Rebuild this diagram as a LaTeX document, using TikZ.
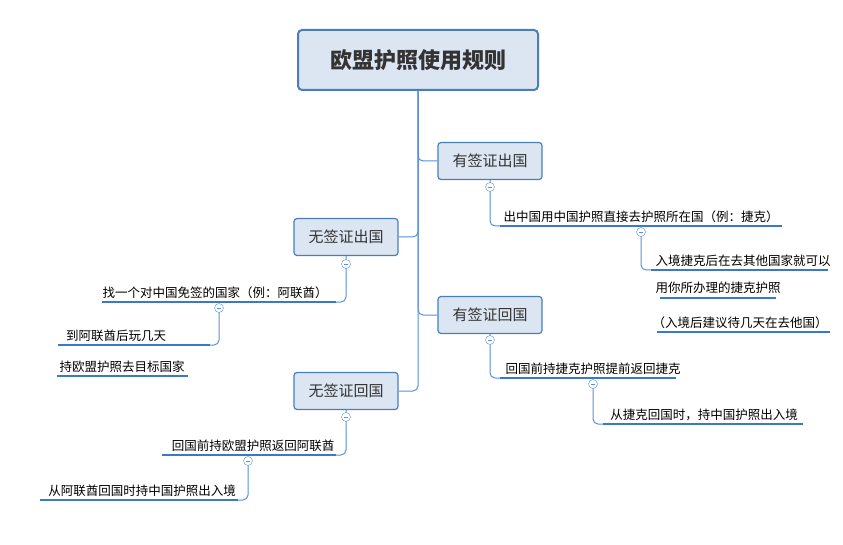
\documentclass[tikz,border=0pt]{standalone}
\usepackage{fontspec}
\setmainfont{Noto Sans CJK SC}
\usetikzlibrary{positioning}
\definecolor{boxfill}{HTML}{DCE6F2}
\definecolor{boxline}{HTML}{4A7EBB}
\definecolor{linkc}{HTML}{5B8FD6}
\definecolor{ulc}{HTML}{3A78C8}
\tikzset{
    rootbox/.style = {draw=boxline, fill=boxfill, line width=2pt, rounded corners=4pt, minimum width=240pt, minimum height=60pt, font=\fontsize{22}{24}\selectfont\bfseries, text=black!80},
    topic/.style = {draw=boxline, fill=boxfill, line width=1.2pt, rounded corners=3pt, minimum width=104pt, minimum height=37pt, font=\fontsize{15}{17}\selectfont, text=black!80},
    fold/.style = {circle, draw=linkc, fill=white, inner sep=0pt, minimum size=9pt,
        path picture={\draw[linkc, line width=0.8pt] ([xshift=-2pt]path picture bounding box.center) -- ([xshift=2pt]path picture bounding box.center);}},
    leaf/.style = {anchor=south, inner sep=1pt, font=\fontsize{12.5}{14}\selectfont},
    link/.style = {draw=linkc, line width=1pt, rounded corners=5pt},
    uline/.style = {draw=ulc, line width=2pt}
}
\begin{document}
\begin{tikzpicture}[x=1pt, y=-1pt]
\useasboundingbox (0,0) rectangle (843,545);

% root and topics
\node[rootbox] (root) at (418,60) {欧盟护照使用规则};
\node[topic] (vout) at (490,161) {有签证出国};
\node[topic] (vback) at (490,315) {有签证回国};
\node[topic] (nout) at (346,237) {无签证出国};
\node[topic] (nback) at (346,391) {无签证回国};

\draw[link] (root.south) |- (vout.west);
\draw[link] (root.south) |- (vback.west);
\draw[link] (root.south) |- (nout.east);
\draw[link] (root.south) |- (nback.east);

% leaves, right side
\node[leaf] (a1) at (641,224) {出中国用中国护照直接去护照所在国（例：捷克）};
\draw[uline] (500,226) -- (782,226);
\node[leaf] (a2) at (743,268) {入境捷克后在去其他国家就可以};
\draw[uline] (651,270) -- (828,270);
\node[leaf] (a3) at (718,295) {用你所办理的捷克护照};
\draw[uline] (660,298) -- (776,298);
\node[leaf] (a4) at (740,330) {（入境后建议待几天在去他国）};
\draw[uline] (657,332) -- (830,332);
\node[leaf] (b1) at (593,376) {回国前持捷克护照提前返回捷克};
\draw[uline] (500,378) -- (676,378);
\node[leaf] (b2) at (704,422) {从捷克回国时，持中国护照出入境};
\draw[uline] (603,424) -- (803,424);

% leaves, left side
\node[leaf] (c1) at (215,300) {找一个对中国免签的国家（例：阿联酋）};
\draw[uline] (102,302) -- (336,302);
\node[leaf] (c2) at (116,343) {到阿联酋后玩几天};
\draw[uline] (58,345) -- (210,345);
\node[leaf] (c3) at (122,374) {持欧盟护照去目标国家};
\draw[uline] (57,376) -- (188,376);
\node[leaf] (d1) at (253,453) {回国前持欧盟护照返回阿联酋};
\draw[uline] (162,455) -- (336,455);
\node[leaf] (d2) at (142,498) {从阿联酋回国时持中国护照出入境};
\draw[uline] (40,500) -- (238,500);

% connectors
\draw[link] (vout.south) -- (490,187) |- (500,226);
\draw[link] (641,232) |- (651,270);
\draw[link] (vback.south) -- (490,340) |- (500,378);
\draw[link] (593,384) |- (603,424);
\draw[link] (nout.south) -- (346,264) |- (336,302);
\draw[link] (219,308) |- (210,345);
\draw[link] (nback.south) -- (346,417) |- (336,455);
\draw[link] (248,461) |- (238,500);

% fold markers
\node[fold] (f1) at (490,187) {};
\node[fold] (f2) at (641,232) {};
\node[fold] (f3) at (490,340) {};
\node[fold] (f4) at (593,384) {};
\node[fold] (f5) at (346,264) {};
\node[fold] (f6) at (219,308) {};
\node[fold] (f7) at (346,417) {};
\node[fold] (f8) at (248,461) {};
\end{tikzpicture}
\end{document}
